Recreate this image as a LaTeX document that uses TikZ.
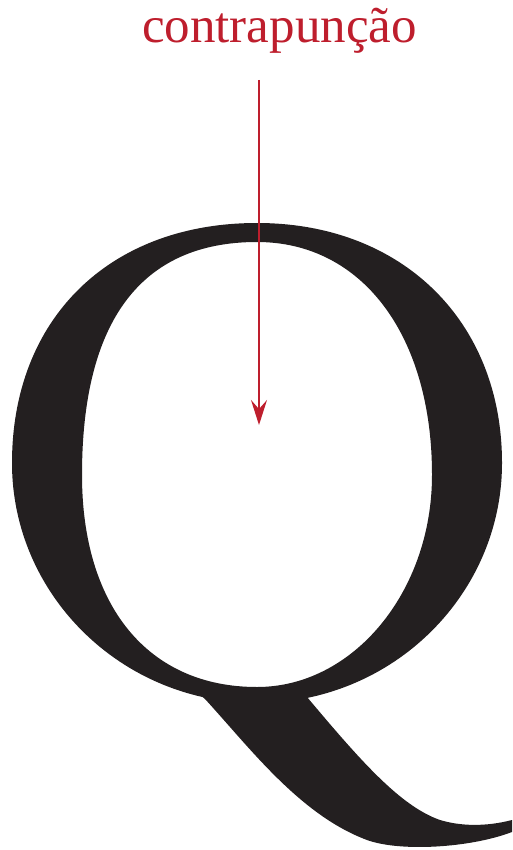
\documentclass[tikz,border=0pt]{standalone}
\usepackage{fontspec}
\setmainfont{Liberation Serif}
\usetikzlibrary{arrows.meta}
\definecolor{qblack}{HTML}{231F20}
\definecolor{qred}{HTML}{BE1E2D}
\tikzset{
  glyph/.style={fill=qblack, draw=none},
  pointer/.style={draw=qred, line width=1.8pt, -{Stealth[length=25pt, width=16pt, inset=9pt]}},
  labeltext/.style={text=qred, font=\fontsize{51}{60}\selectfont, inner sep=0pt}
}
\begin{document}
\begin{tikzpicture}[x=1pt, y=-1pt]
\useasboundingbox (0,0) rectangle (513,850);
% bowl of the Q (outer contour and counter)
\fill[glyph, even odd rule]
  (12,463) .. controls (12,319) and (109,223) .. (257,223)
           .. controls (402,223) and (502,321) .. (502,463)
           .. controls (502,595) and (392,703) .. (257,703)
           .. controls (122,703) and (12,595) .. (12,463) -- cycle
  (82,475) .. controls (82,321) and (141,242) .. (257,242)
           .. controls (362,242) and (432,335) .. (432,475)
           .. controls (432,592) and (353,687) .. (257,687)
           .. controls (148,687) and (82,606) .. (82,475) -- cycle;
% tail of the Q
\fill[glyph]
  (198,693) -- (205,699)
     .. controls (250,748) and (300,815) .. (367,840)
     .. controls (400,852) and (470,848) .. (512,832)
     -- (512,820)
     .. controls (485,827) and (460,826) .. (440,820)
     .. controls (400,806) and (360,760) .. (307,697)
     -- (305,692) -- cycle;
% label and pointer
\node[labeltext, anchor=base] (lbl) at (279.5,43) {contrapunção};
\coordinate (start) at (259,80);
\coordinate (tip) at (259,425);
\draw[pointer] (start) -- (tip);
\end{tikzpicture}
\end{document}
